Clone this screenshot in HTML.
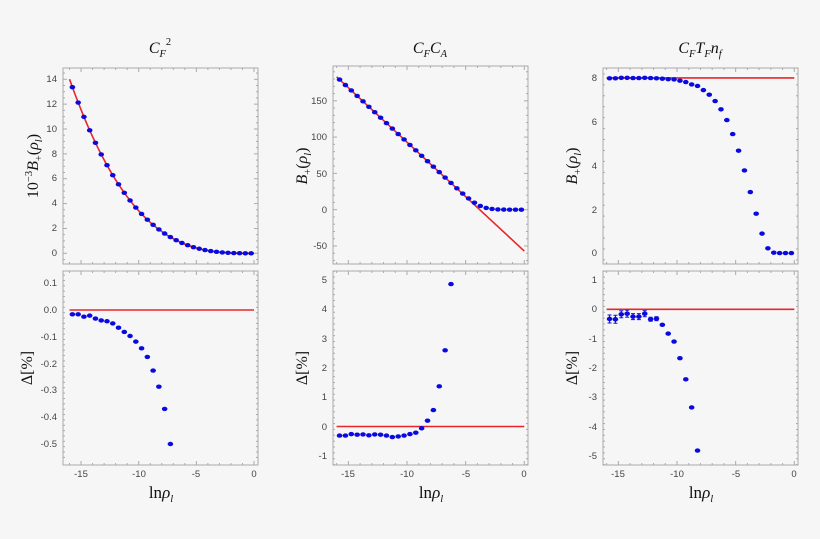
<!DOCTYPE html>
<html><head><meta charset="utf-8"><style>
html,body{margin:0;padding:0;background:#f6f6f6;}
svg{display:block;font-family:"Liberation Sans",sans-serif;}
.tl{font-size:9.5px;fill:#444;}
.ser{font-family:"Liberation Serif",serif;fill:#111;}
</style></head><body>
<svg id="s" width="820" height="539" viewBox="0 0 820 539" xmlns="http://www.w3.org/2000/svg">
<rect width="820" height="539" fill="#f6f6f6"/>
<g id="g"></g>
<text class="ser" x="160" y="53" font-size="16" text-anchor="middle"><tspan font-style="italic">C</tspan><tspan font-style="italic" font-size="10.5" dy="4">F</tspan><tspan font-size="10.5" dy="-12">2</tspan></text>
<text class="ser" x="430" y="53" font-size="16" text-anchor="middle"><tspan font-style="italic">C</tspan><tspan font-style="italic" font-size="10.5" dy="4">F</tspan><tspan font-style="italic" dy="-4">C</tspan><tspan font-style="italic" font-size="10.5" dy="4">A</tspan></text>
<text class="ser" x="700" y="53" font-size="16" text-anchor="middle"><tspan font-style="italic">C</tspan><tspan font-style="italic" font-size="10.5" dy="4">F</tspan><tspan font-style="italic" dy="-4">T</tspan><tspan font-style="italic" font-size="10.5" dy="4">F</tspan><tspan font-style="italic" dy="-4">n</tspan><tspan font-style="italic" font-size="10.5" dy="4">f</tspan></text>
<text class="ser" font-size="16" transform="translate(38,166) rotate(-90)" text-anchor="middle">10<tspan font-size="10.5" dy="-6">−3</tspan><tspan font-style="italic" dy="6">B</tspan><tspan font-size="10.5" dy="4">+</tspan><tspan dy="-4">(</tspan><tspan font-style="italic">ρ</tspan><tspan font-style="italic" font-size="10.5" dy="4">l</tspan><tspan dy="-4">)</tspan></text>
<text class="ser" font-size="16" transform="translate(307,166) rotate(-90)" text-anchor="middle"><tspan font-style="italic">B</tspan><tspan font-size="10.5" dy="4">+</tspan><tspan dy="-4">(</tspan><tspan font-style="italic">ρ</tspan><tspan font-style="italic" font-size="10.5" dy="4">l</tspan><tspan dy="-4">)</tspan></text>
<text class="ser" font-size="16" transform="translate(577,166) rotate(-90)" text-anchor="middle"><tspan font-style="italic">B</tspan><tspan font-size="10.5" dy="4">+</tspan><tspan dy="-4">(</tspan><tspan font-style="italic">ρ</tspan><tspan font-style="italic" font-size="10.5" dy="4">l</tspan><tspan dy="-4">)</tspan></text>
<text class="ser" font-size="16" transform="translate(32,368) rotate(-90)" text-anchor="middle">Δ[%]</text>
<text class="ser" font-size="16" transform="translate(307,368) rotate(-90)" text-anchor="middle">Δ[%]</text>
<text class="ser" font-size="16" transform="translate(577,368) rotate(-90)" text-anchor="middle">Δ[%]</text>
<text class="ser" font-size="17" x="161" y="498" text-anchor="middle">ln<tspan font-style="italic">ρ</tspan><tspan font-style="italic" font-size="10.5" dy="4">l</tspan></text>
<text class="ser" font-size="17" x="431" y="498" text-anchor="middle">ln<tspan font-style="italic">ρ</tspan><tspan font-style="italic" font-size="10.5" dy="4">l</tspan></text>
<text class="ser" font-size="17" x="701" y="498" text-anchor="middle">ln<tspan font-style="italic">ρ</tspan><tspan font-style="italic" font-size="10.5" dy="4">l</tspan></text>
<g class="tl" text-anchor="end">
<text x="57" y="82">14</text><text x="57" y="107">12</text><text x="57" y="132">10</text><text x="57" y="157">8</text><text x="57" y="181">6</text><text x="57" y="206">4</text><text x="57" y="231">2</text><text x="57" y="256">0</text>
<text x="57" y="286">0.1</text><text x="57" y="313">0.0</text><text x="57" y="340">-0.1</text><text x="57" y="367">-0.2</text><text x="57" y="393">-0.3</text><text x="57" y="420">-0.4</text><text x="57" y="447">-0.5</text>
<text x="327" y="104">150</text><text x="327" y="140">100</text><text x="327" y="177">50</text><text x="327" y="213">0</text><text x="327" y="249">-50</text>
<text x="327" y="283">5</text><text x="327" y="312">4</text><text x="327" y="342">3</text><text x="327" y="371">2</text><text x="327" y="400">1</text><text x="327" y="430">0</text><text x="327" y="459">-1</text>
<text x="597" y="81">8</text><text x="597" y="125">6</text><text x="597" y="169">4</text><text x="597" y="213">2</text><text x="597" y="256">0</text>
<text x="597" y="283">1</text><text x="597" y="312">0</text><text x="597" y="342">-1</text><text x="597" y="371">-2</text><text x="597" y="400">-3</text><text x="597" y="430">-4</text><text x="597" y="459">-5</text>
</g>
<g class="tl" text-anchor="middle">
<text x="81" y="477">-15</text><text x="139" y="477">-10</text><text x="196" y="477">-5</text><text x="254" y="477">0</text>
<text x="348" y="477">-15</text><text x="407" y="477">-10</text><text x="466" y="477">-5</text><text x="524" y="477">0</text>
<text x="618" y="477">-15</text><text x="677" y="477">-10</text><text x="736" y="477">-5</text><text x="794" y="477">0</text>
</g>
</svg>
<script>
var g=document.getElementById('g'),NS='http://www.w3.org/2000/svg';
function el(t,a){var e=document.createElementNS(NS,t);for(var k in a)e.setAttribute(k,a[k]);g.appendChild(e);return e;}
function panel(x0,x1,y0,y1,X,Y,ymin,ymax,ystep,ts,line,pts,err){
 el('rect',{x:x0,y:y0,width:x1-x0,height:y1-y0,fill:'none',stroke:'#aaa','stroke-width':1});
 for(var v=-16;v<=0.001;v+=1){var px=X(v),maj=(Math.round(v)%5==0);var L=maj?4:2;
  el('line',{x1:px,x2:px,y1:y1,y2:y1-L,stroke:'#aaa'});el('line',{x1:px,x2:px,y1:y0,y2:y0+L,stroke:'#aaa'});}
 for(var v=ymin;v<=ymax+1e-9;v+=ystep/ts){var py=Y(v);var maj=Math.abs(Math.round(v/ystep)*ystep-v)<1e-6;var L=maj?4:2;
  if(py<y0||py>y1)continue;
  el('line',{x1:x0,x2:x0+L,y1:py,y2:py,stroke:'#aaa'});el('line',{x1:x1,x2:x1-L,y1:py,y2:py,stroke:'#aaa'});}
 if(line){var d='';for(var v=-16;v<=0.001;v+=0.25){d+=(d?'L':'M')+X(v).toFixed(1)+','+Y(line(v)).toFixed(1);}
  el('path',{d:d,fill:'none',stroke:'#e8262a','stroke-width':1.6});}
 pts.forEach(function(p,i){var px=X(-15.75+0.5*i),py=Y(p);
  if(err&&err[i]){el('line',{x1:px,x2:px,y1:py-err[i],y2:py+err[i],stroke:'#1515d0','stroke-width':1.2});
   el('line',{x1:px-2,x2:px+2,y1:py-err[i],y2:py-err[i],stroke:'#1515d0'});el('line',{x1:px-2,x2:px+2,y1:py+err[i],y2:py+err[i],stroke:'#1515d0'});}
  el('ellipse',{cx:px,cy:py,rx:2.8,ry:2.2,fill:'#0a0ae0'});});
}
function lin(a,b){return function(x){return a+b*x;};}
var X1=lin(254,11.53),X2=lin(524.3,11.73),X3=lin(794.3,11.73);
var p1=[];for(var i=0;i<32;i++){var x=-15.75+0.5*i;p1.push(0.00342*Math.pow(-x,3));}
panel(63,258,68,264,X1,lin(253.3,-12.43),-0.5,15,2,4,function(x){return 0.00342*Math.pow(-x,3);},p1);
panel(63,258,271,465,X1,lin(310,-268),-0.55,0.15,0.1,5,function(){return 0;},
 [-0.016,-0.016,-0.025,-0.021,-0.032,-0.039,-0.042,-0.05,-0.066,-0.082,-0.097,-0.118,-0.143,-0.175,-0.226,-0.286,-0.369,-0.5]);
var p2=[];for(var i=0;i<32;i++){var x=-15.75+0.5*i,L=-15*x-57;p2.push(8*Math.log(1+Math.exp(L/8)));}
panel(333,528,66,264,X2,lin(209.7,-0.726),-70,200,50,5,function(x){return -15*x-57;},p2);
panel(333,528,271,465,X2,lin(426.5,-29.3),-1.3,5.3,1,5,function(){return 0;},
 [-0.31,-0.31,-0.26,-0.28,-0.27,-0.3,-0.27,-0.28,-0.31,-0.36,-0.34,-0.31,-0.26,-0.21,-0.06,0.2,0.56,1.37,2.6,4.86]);
var p3=[8,8,8.02,8.02,8.01,8.01,8.02,8.01,8,7.98,7.96,7.95,7.89,7.83,7.72,7.65,7.46,7.25,6.96,6.58,6.09,5.45,4.69,3.79,2.8,1.81,0.9,0.23,0.03,0.01,0.01,0.01];
panel(603,798,68,264,X3,lin(253.3,-21.875),-0.3,8.6,2,4,function(){return 8.02;},p3);
panel(603,798,271,465,X3,lin(309.3,-29.3),-5.3,1.3,1,5,function(){return 0;},
 [-0.33,-0.34,-0.17,-0.15,-0.25,-0.25,-0.15,-0.34,-0.32,-0.53,-0.83,-1.1,-1.67,-2.39,-3.35,-4.82],[4,4,3.5,3.5,3,3,3,2,2]);
</script>
</body></html>
